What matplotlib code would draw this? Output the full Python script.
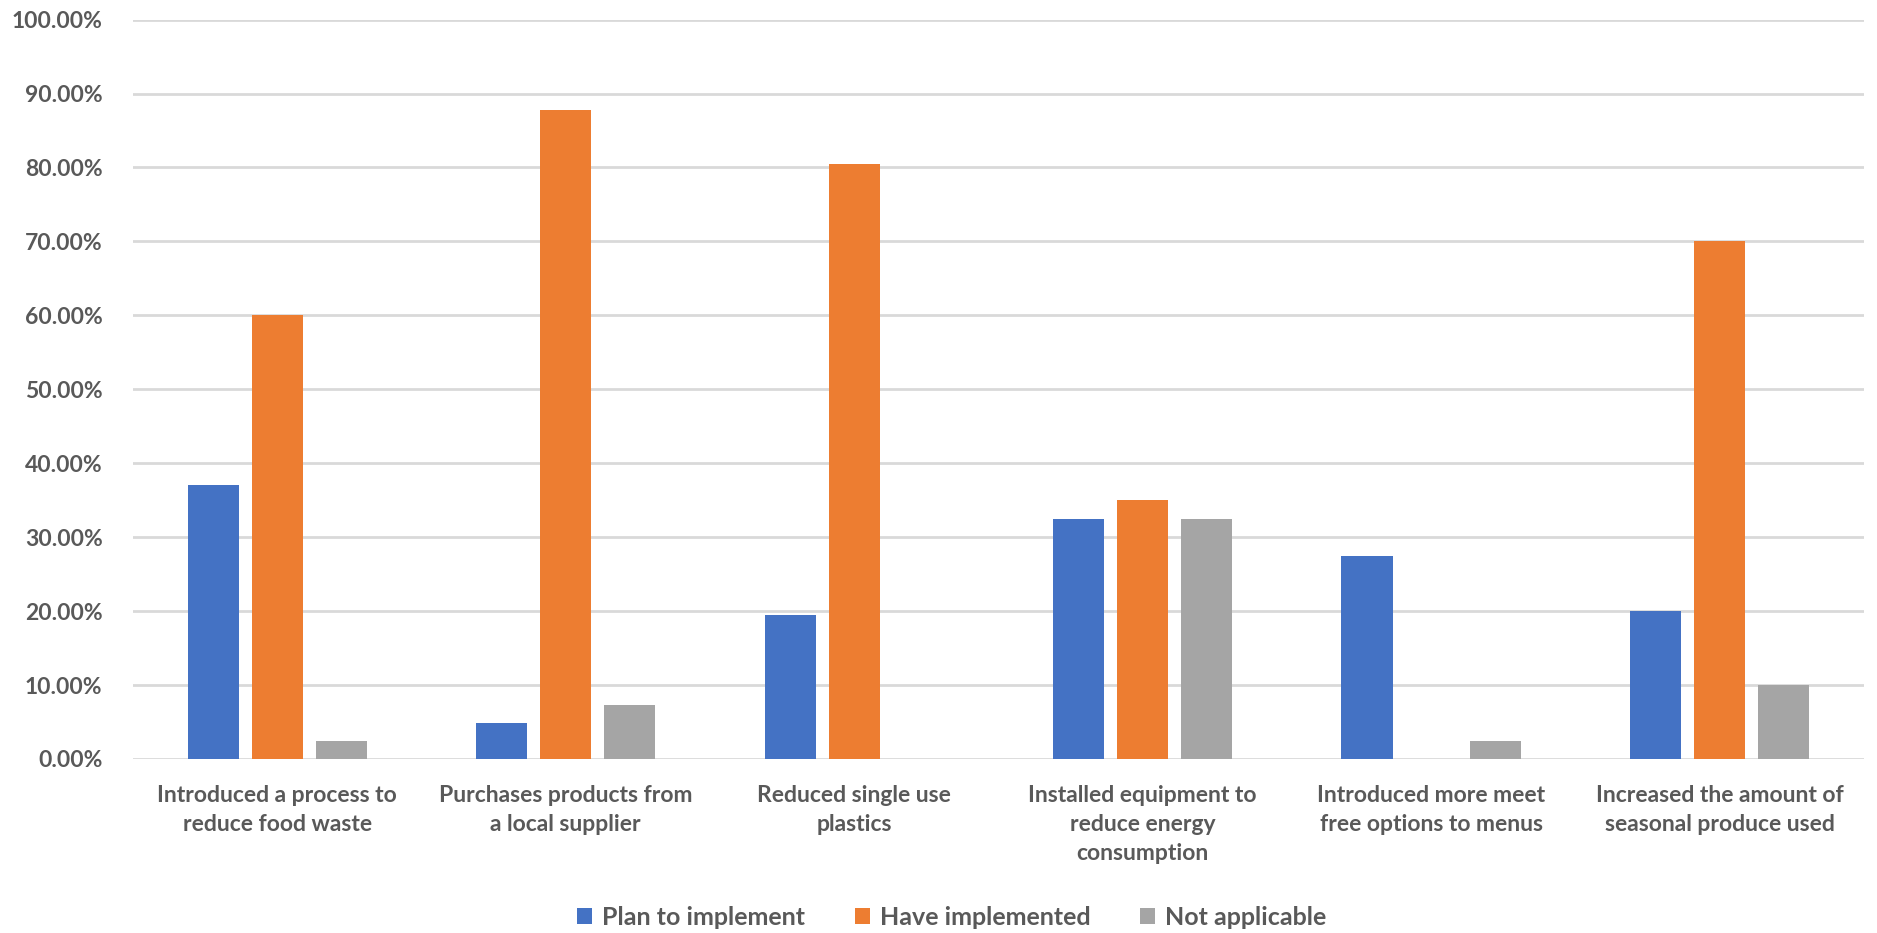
import matplotlib.pyplot as plt
import numpy as np
from matplotlib.ticker import FuncFormatter

# Data (share of respondents)
categories = [
    "Introduced a process to\nreduce food waste",
    "Purchases products from\na local supplier",
    "Reduced single use\nplastics",
    "Installed equipment to\nreduce energy\nconsumption",
    "Introduced more meet\nfree options to menus",
    "Increased the amount of\nseasonal produce used",
]
plan_to_implement = [0.370, 0.0488, 0.1951, 0.325, 0.275, 0.200]
have_implemented = [0.600, 0.8780, 0.8049, 0.350, 0.000, 0.700]
not_applicable = [0.025, 0.0732, 0.000, 0.325, 0.025, 0.100]

series_names = ["Plan to implement", "Have implemented", "Not applicable"]
colors = ["#4472C4", "#ED7D31", "#A5A5A5"]
y_ticks = np.arange(0, 1.01, 0.1)

text_color = "#595959"
plt.rcParams["font.family"] = ["Lato", "DejaVu Sans"]
plt.rcParams["font.weight"] = "bold"

fig = plt.figure(figsize=(18.77, 9.33), dpi=100)
ax = fig.add_axes([0.0709, 0.1865, 0.9221, 0.7925])

x = np.arange(len(categories))
bar_w = 0.178
step = 0.222
for i, (vals, name, col) in enumerate(
    zip([plan_to_implement, have_implemented, not_applicable], series_names, colors)
):
    ax.bar(x + (i - 1) * step, vals, width=bar_w, color=col, label=name, zorder=3)

ax.set_xlim(-0.5, len(categories) - 0.5)
ax.set_ylim(0, 1.0)
ax.set_yticks(y_ticks)
ax.yaxis.set_major_formatter(FuncFormatter(lambda v, _: f"{v * 100:.2f}%"))
ax.grid(axis="y", color="#D9D9D9", linewidth=2, zorder=0)
ax.set_axisbelow(True)

for s in ["top", "right", "left", "bottom"]:
    ax.spines[s].set_visible(False)

ax.set_xticks(x)
ax.set_xticklabels(categories, fontsize=16.5, color=text_color, linespacing=1.45)
ax.tick_params(axis="x", length=0, pad=19)
ax.tick_params(axis="y", length=0, pad=22, labelsize=16.5, labelcolor=text_color)

leg = fig.legend(
    loc="center",
    bbox_to_anchor=(0.507, 0.017),
    ncol=3,
    frameon=False,
    fontsize=18,
    handlelength=0.6,
    handleheight=0.6,
    handletextpad=0.4,
    columnspacing=2.0,
)
for t in leg.get_texts():
    t.set_color(text_color)

fig.savefig("out.png", dpi=100)
